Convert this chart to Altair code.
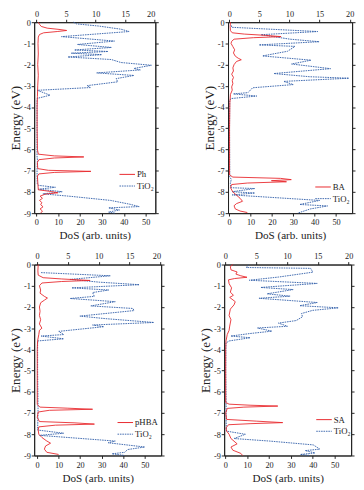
import altair as alt
import pandas as pd

FONT = "Liberation Serif"
RED = "#e8262b"
BLUE = "#2a5aa6"
INK = "#222222"

Y_TICKS = [0, -1, -2, -3, -4, -5, -6, -7, -8, -9]
XB_TICKS = [0, 10, 20, 30, 40, 50]
XT_TICKS = [0, 5, 10, 15, 20]

# ---------- Panel 1: Ph ----------
ph_tio2_e = [0.0, -0.08, -0.18, -0.33, -0.44, -0.68, -0.89, -1.05, -1.19, -1.31, -1.38, -1.46, -1.53, -1.64,
             -1.76, -1.9, -2.03, -2.18, -2.25, -2.39, -2.51, -2.66, -2.81, -2.99, -3.08, -3.21, -3.44, -3.59,
             -3.7, -5.0, -6.3, -6.5, -7.0, -7.6, -7.69, -7.78, -7.87, -7.99, -8.09, -8.21, -8.4, -8.58,
             -8.69, -8.75, -8.85, -8.95, -9.0]
ph_tio2_d = [17.0, 18.4, 28.4, 38.7, 42.4, 11.5, 35.7, 18.8, 34.3, 17.4, 32.8, 15.9, 29.9, 14.4,
             34.3, 38.7, 52.6, 44.6, 47.5, 27.6, 44.6, 36.5, 37.2, 23.2, 24.7, 0.4, 6.3, 0.4,
             0.3, 0.3, 0.3, 0.5, 0.3, 0.4, 1.0, 8.7, 1.0, 11.8, 3.0, 16.0, 34.0, 42.8,
             47.0, 33.0, 38.0, 33.0, 36.0]
ph_mol_e = [0.0, -0.1, -0.2, -0.28, -0.34, -0.39, -0.44, -0.5, -0.58, -0.7, -1.0, -1.5, -2.0, -2.5, -3.0,
            -3.5, -4.0, -5.0, -6.0, -6.22, -6.3, -6.35, -6.4, -6.48, -6.6, -6.9, -6.98, -7.03, -7.08,
            -7.15, -7.25, -7.5, -7.9, -7.98, -8.04, -8.1, -8.2, -8.3, -8.4, -8.5, -8.6, -8.7, -8.8,
            -8.9, -9.0]
ph_mol_d = [0.3, 0.5, 0.8, 1.8, 3.8, 5.1, 3.5, 1.2, 0.5, 0.3, 0.25, 0.3, 0.2, 0.3, 0.2,
            0.15, 0.1, 0.1, 0.15, 0.3, 3.0, 8.0, 3.0, 0.4, 0.15, 0.2, 2.0, 9.2, 3.0,
            0.4, 0.15, 0.2, 0.3, 2.5, 3.6, 1.5, 0.6, 1.0, 0.5, 0.9, 0.7, 1.1, 0.6,
            1.0, 0.7]

# ---------- Panel 2: BA ----------
ba_tio2_e = [-0.15, -0.24, -0.44, -0.59, -0.8, -0.92, -1.07, -1.14, -1.37, -1.59, -1.79, -1.97, -2.19,
             -2.42, -2.57, -2.64, -2.79, -2.94, -3.09, -3.32, -3.38, -3.48, -3.6, -3.7, -5.0, -7.3,
             -7.4, -7.6, -7.8, -7.84, -7.99, -8.05, -8.14, -8.4, -8.59, -8.66, -8.8, -8.9, -9.0]
ba_tio2_d = [1.0, 1.2, 41.4, 14.9, 28.5, 42.1, 14.0, 30.8, 27.3, 15.6, 38.3, 29.2, 47.4,
             20.9, 37.6, 56.0, 25.5, 30.0, 11.0, 8.8, 2.0, 12.9, 0.8, 0.3, 0.2, 0.3,
             1.0, 0.6, 0.8, 12.0, 1.4, 12.0, 1.4, 42.3, 33.0, 46.0, 38.0, 35.0, 32.0]
ba_mol_e = [0.0, -0.2, -0.4, -0.5, -0.56, -0.62, -0.68, -0.73, -0.8, -0.9, -1.0, -1.15, -1.3, -1.45,
            -1.6, -1.7, -1.77, -1.85, -2.0, -2.15, -2.3, -2.45, -2.6, -2.75, -2.9, -3.05, -3.2, -3.4,
            -3.6, -3.8, -5.0, -7.2, -7.3, -7.36, -7.42, -7.47, -7.52, -7.58, -7.65, -7.8, -8.0,
            -8.15, -8.3, -8.44, -8.55, -8.65, -8.8, -8.9, -8.97]
ba_mol_d = [0.2, 0.15, 0.2, 0.5, 2.5, 6.0, 8.6, 4.0, 0.8, 0.4, 0.3, 0.6, 0.9, 0.7,
            1.0, 1.5, 2.0, 1.2, 0.8, 0.6, 0.7, 0.4, 0.7, 0.5, 0.6, 0.4, 0.5, 0.2,
            0.15, 0.1, 0.05, 0.05, 0.6, 8.5, 10.3, 7.0, 9.5, 3.0, 0.4, 0.2, 0.6,
            1.2, 1.8, 2.2, 1.2, 0.8, 1.0, 1.8, 3.0]

# ---------- Panel 3: pHBA ----------
ph_ba_tio2_e = [-0.38, -0.53, -0.7, -0.83, -0.95, -1.1, -1.2, -1.32, -1.5, -1.6, -1.75, -1.95, -2.07,
                -2.17, -2.43, -2.55, -2.73, -2.85, -2.93, -3.15, -3.3, -3.37, -3.5, -3.6, -3.7, -5.0,
                -6.8, -7.8, -7.95, -8.05, -8.32, -8.4, -8.6, -8.72, -8.85, -8.92, -9.0]
ph_ba_tio2_d = [1.9, 34.0, 15.4, 28.8, 47.5, 16.1, 33.3, 25.8, 26.6, 15.4, 36.3, 25.0, 44.5,
                45.0, 19.9, 31.8, 54.2, 25.8, 31.0, 10.1, 12.4, 1.9, 12.4, 0.4, 0.3, 0.3,
                0.5, 0.3, 12.4, 1.2, 36.3, 33.0, 50.0, 42.0, 40.7, 34.8, 40.7]
ph_ba_mol_e = [0.0, -0.3, -0.5, -0.62, -0.68, -0.75, -0.8, -0.87, -1.0, -1.2, -1.35, -1.5, -1.58, -1.68,
               -1.8, -2.0, -2.2, -2.4, -2.6, -2.8, -3.0, -3.1, -3.3, -3.6, -4.0, -5.0, -6.6, -6.72,
               -6.77, -6.82, -6.87, -6.95, -7.2, -7.4, -7.46, -7.52, -7.57, -7.65, -7.8, -8.0,
               -8.15, -8.3, -8.42, -8.55, -8.7, -8.85, -8.95]
ph_ba_mol_d = [0.2, 0.15, 0.2, 1.0, 4.0, 8.6, 4.0, 0.8, 0.4, 0.6, 0.5, 1.2, 1.7, 1.2,
               0.6, 0.4, 0.5, 0.4, 0.6, 0.4, 0.8, 0.4, 0.3, 0.1, 0.05, 0.05, 0.05, 0.5,
               5.0, 9.0, 2.0, 0.2, 0.05, 0.4, 6.0, 9.3, 3.0, 0.3, 0.2, 0.3,
               0.8, 1.5, 2.2, 1.4, 1.2, 1.6, 3.5]

# ---------- Panel 4: SA ----------
sa_tio2_e = [-0.03, -0.14, -0.18, -0.36, -0.59, -0.74, -0.89, -1.08, -1.18, -1.38, -1.49, -1.59, -1.79,
             -1.94, -2.04, -2.16, -2.31, -2.46, -2.64, -2.76, -2.91, -2.99, -3.14, -3.25, -3.37, -3.45,
             -3.6, -3.7, -5.0, -6.6, -7.3, -7.85, -8.0, -8.2, -8.32, -8.5, -8.7, -8.77, -8.88, -8.95, -9.0]
sa_tio2_d = [10.7, 9.5, 39.0, 40.0, 24.3, 11.0, 42.0, 16.2, 31.0, 19.1, 29.6, 15.4, 42.0,
             34.0, 51.7, 39.9, 34.8, 35.3, 32.4, 24.3, 28.4, 14.7, 21.3, 11.4, 2.5, 11.4,
             1.8, 0.3, 0.2, 0.4, 0.4, 0.5, 9.2, 4.0, 20.3, 40.2, 43.2, 36.5, 41.0, 34.3, 38.8]
sa_mol_e = [0.0, -0.1, -0.25, -0.35, -0.45, -0.53, -0.6, -0.66, -0.72, -0.9, -1.1, -1.3, -1.45, -1.55,
            -1.75, -1.9, -2.1, -2.4, -2.6, -2.9, -3.1, -3.3, -3.6, -4.0, -5.0, -6.5, -6.58, -6.63,
            -6.67, -6.72, -6.78, -7.0, -7.3, -7.38, -7.45, -7.5, -7.55, -7.7, -7.85, -8.0, -8.2,
            -8.45, -8.6, -8.75, -8.9, -9.0]
sa_mol_d = [1.2, 0.8, 0.9, 1.9, 1.7, 2.5, 3.5, 1.5, 0.5, 0.6, 1.0, 0.8, 1.3, 0.7,
            1.6, 1.4, 0.8, 0.6, 0.9, 0.7, 0.6, 0.3, 0.1, 0.05, 0.05, 0.05, 0.6, 4.0,
            8.5, 3.0, 0.3, 0.05, 0.2, 5.0, 9.3, 4.0, 0.5, 0.1, 0.2, 0.6, 0.9,
            1.9, 0.9, 1.2, 2.5, 2.8]

H = 197


def make_panel(e_t, d_t, e_m, d_m, mol_name, xb, xt, lx, ly, w):
    t = pd.DataFrame({"E": e_t, "D": d_t, "i": list(range(len(e_t)))})
    m = pd.DataFrame({"E": e_m, "D": d_m, "i": list(range(len(e_m)))})
    yscale = alt.Scale(domain=[-9, 0], nice=False, zero=False)
    blue = alt.Chart(t).mark_line(color=BLUE, strokeWidth=0.9, strokeDash=[1.6, 0.9]).encode(
        x=alt.X("D:Q", scale=alt.Scale(domain=xb, nice=False, zero=False),
                axis=alt.Axis(orient="bottom", values=XB_TICKS, title="DoS (arb. units)",
                              titleFont=FONT, titleFontWeight=400, labelPadding=2,
                              titleFontSize=11.5, titlePadding=4)),
        y=alt.Y("E:Q", scale=yscale,
                axis=alt.Axis(orient="left", values=Y_TICKS, title="Energy (eV)",
                              titleFont=FONT, titleFontWeight=400, titleFontSize=13.5,
                              titlePadding=1,
                              labelExpr="datum.value == 0 ? '0' : '-' + abs(datum.value)")),
        order="i:Q",
    )
    red = alt.Chart(m).mark_line(color=RED, strokeWidth=0.9).encode(
        x=alt.X("D:Q", scale=alt.Scale(domain=xt, nice=False, zero=False),
                axis=alt.Axis(orient="top", values=XT_TICKS, title=None)),
        y=alt.Y("E:Q", scale=yscale,
                axis=alt.Axis(orient="right", values=Y_TICKS, labels=False, title=None)),
        order="i:Q",
    )
    one = pd.DataFrame({"a": [0]})
    leg_red = alt.Chart(one).mark_rule(color=RED, strokeWidth=1).encode(
        x=alt.value(lx), x2=alt.value(lx + 16), y=alt.value(ly))
    leg_blue = alt.Chart(one).mark_rule(color=BLUE, strokeWidth=0.9, strokeDash=[1.6, 0.9]).encode(
        x=alt.value(lx), x2=alt.value(lx + 16), y=alt.value(ly + 12))
    txt = pd.DataFrame({"t": [mol_name]})
    txt2 = pd.DataFrame({"t": ["TiO₂"]})
    leg_t1 = alt.Chart(txt).mark_text(align="left", baseline="middle", font=FONT, fontSize=9,
                                       color=INK).encode(
        x=alt.value(lx + 18), y=alt.value(ly), text="t:N")
    leg_t2 = alt.Chart(txt2).mark_text(align="left", baseline="middle", font=FONT, fontSize=9,
                                        color=INK).encode(
        x=alt.value(lx + 18), y=alt.value(ly + 12), text="t:N")
    return alt.layer(blue, red, leg_red, leg_blue, leg_t1, leg_t2).resolve_scale(
        x="independent", y="shared").resolve_axis(x="independent", y="independent").properties(
        width=w, height=H)


p1 = make_panel(ph_tio2_e, ph_tio2_d, ph_mol_e, ph_mol_d, "Ph", [-1, 54.4], [-0.4, 20.1], 88, 157, 125)
p2 = make_panel(ba_tio2_e, ba_tio2_d, ba_mol_e, ba_mol_d, "BA", [-0.5, 57.5], [-0.2, 20.4], 90, 170, 128)
p3 = make_panel(ph_ba_tio2_e, ph_ba_tio2_d, ph_ba_mol_e, ph_ba_mol_d, "pHBA", [-1.3, 57.6], [-0.45, 20.1], 86, 163, 131)
p4 = make_panel(sa_tio2_e, sa_tio2_d, sa_mol_e, sa_mol_d, "SA", [-0.5, 57.5], [-0.2, 20.4], 95, 160, 131)

chart = alt.vconcat(
    alt.hconcat(p1, p2, spacing=44),
    alt.hconcat(p3, p4, spacing=34),
    spacing=9,
).properties(padding={"left": 0, "top": -7, "right": 0, "bottom": 0}).configure(
    font=FONT
).configure_axis(
    labelFont=FONT, titleFont=FONT, labelFontSize=8.5, labelColor=INK, titleColor=INK,
    titleFontWeight=400, tickSize=3, tickColor=INK, domainColor=INK, labelPadding=1, grid=False,
).configure_view(stroke=INK, strokeWidth=1)

chart.save("out.html", embed_options={"renderer": "svg", "actions": False})
